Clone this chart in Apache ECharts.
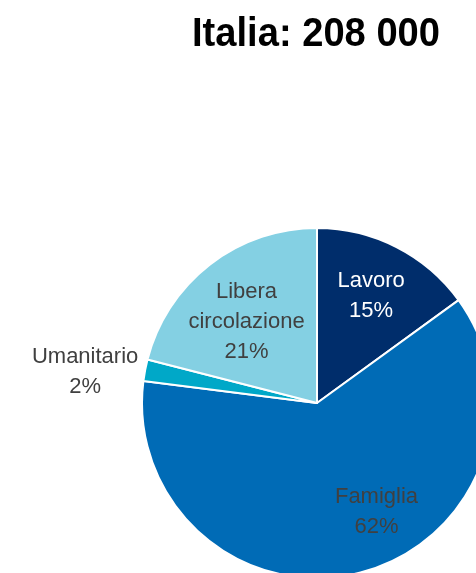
<!DOCTYPE html>
<html>
<head>
<meta charset="utf-8">
<script src="https://cdn.jsdelivr.net/npm/echarts@6/dist/echarts.min.js"></script>
<style>
  html, body { margin: 0; padding: 0; background: #ffffff; }
  #chart { width: 476px; height: 573px; }
</style>
</head>
<body>
<div id="chart"></div>
<script>
// Permessi di soggiorno per motivo
const titleText = 'Italia: 208 000';
const categories = ['Lavoro', 'Famiglia', 'Umanitario', 'Libera circolazione'];
const labelNames = ['Lavoro', 'Famiglia', 'Umanitario', 'Libera\ncircolazione'];
const shares = [15, 62, 2, 21];

const sliceColors = ['#002D6B', '#006BB6', '#00A8C8', '#84D0E3'];
const labelColors = ['#ffffff', '#404040', '#404040', '#404040'];
// shift of each label from its default inside position
const labelShift = [[13, -26], [37, 21], [-143, -14], [-15, -10]];

const FONT = '"Liberation Sans Narrow", "Arial Narrow", "Liberation Sans", Arial, sans-serif';

const chart = echarts.init(document.getElementById('chart'), null, { renderer: 'canvas' });

chart.setOption({
  animation: false,
  backgroundColor: '#ffffff',
  graphic: [{
    // condensed bold heading, right-aligned
    type: 'text',
    x: 440,
    y: 14,
    scaleX: 0.93,
    style: {
      text: titleText,
      textAlign: 'right',
      textVerticalAlign: 'top',
      fontFamily: FONT,
      fontWeight: 'bold',
      fontSize: 41,
      fill: '#000000'
    }
  }],
  series: [{
    type: 'pie',
    center: [317, 403],
    radius: [0, 175],
    startAngle: 90,
    clockwise: true,
    avoidLabelOverlap: false,
    itemStyle: { borderColor: '#ffffff', borderWidth: 2 },
    label: {
      show: true,
      position: 'inside',
      fontFamily: FONT,
      fontSize: 22,
      lineHeight: 30,
      align: 'center',
      formatter: p => labelNames[p.dataIndex] + '\n' + p.value + '%'
    },
    labelLine: { show: false },
    labelLayout: p => ({ dx: labelShift[p.dataIndex][0], dy: labelShift[p.dataIndex][1] }),
    data: categories.map((c, i) => ({
      name: c,
      value: shares[i],
      itemStyle: { color: sliceColors[i] },
      label: { color: labelColors[i] }
    }))
  }]
});
</script>
</body>
</html>
